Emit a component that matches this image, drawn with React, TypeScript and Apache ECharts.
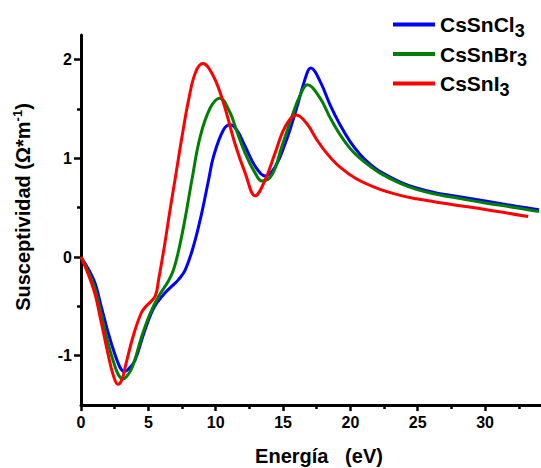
import { useEffect, useRef } from 'react';
import * as echarts from 'echarts';

const FONT = "'Liberation Sans', Arial, Helvetica, sans-serif";

const seriesNames = ['CsSnCl3', 'CsSnBr3', 'CsSnI3'];
const seriesColors = ['#0000FF', '#008000', '#FF0000'];

const clEnergy = [0, 0.94, 1.5, 2.0, 2.5, 2.9, 3.2, 3.5, 4.0, 4.65, 5.39, 6.13, 6.87, 7.24, 7.74, 8.35, 8.97, 9.47, 9.84, 10.58, 11.1, 11.6, 12.19, 12.93, 13.67, 14.4, 15.16, 15.9, 16.77, 17.06, 17.75, 18.5, 19.23, 19.98, 20.72, 21.46, 22.2, 23.7, 24.9, 26.2, 27.4, 29.9, 32.3, 34.0];
const clValues = [0, -0.23, -0.5, -0.76, -0.98, -1.12, -1.16, -1.14, -1.05, -0.78, -0.52, -0.38, -0.28, -0.23, -0.13, 0.11, 0.45, 0.78, 1.02, 1.29, 1.34, 1.28, 1.12, 0.92, 0.82, 0.91, 1.15, 1.46, 1.86, 1.915, 1.78, 1.54, 1.34, 1.17, 1.04, 0.94, 0.865, 0.76, 0.7, 0.655, 0.625, 0.57, 0.515, 0.48];

const brEnergy = [0, 0.94, 1.5, 2.0, 2.5, 2.8, 3.1, 3.4, 3.83, 4.52, 5.14, 5.76, 6.5, 6.87, 7.32, 7.81, 8.23, 8.85, 9.59, 10.3, 11.08, 11.45, 12.19, 12.93, 13.43, 14.17, 14.91, 15.65, 16.27, 16.81, 17.75, 18.5, 19.23, 19.98, 20.72, 21.46, 22.2, 23.7, 24.9, 26.2, 27.4, 29.9, 32.3, 34.0];
const brValues = [0, -0.28, -0.58, -0.87, -1.1, -1.2, -1.235, -1.21, -1.11, -0.8, -0.57, -0.4, -0.24, -0.13, 0.11, 0.45, 0.78, 1.22, 1.51, 1.61, 1.46, 1.32, 1.05, 0.85, 0.77, 0.83, 1.12, 1.42, 1.64, 1.745, 1.61, 1.41, 1.24, 1.1, 1.0, 0.92, 0.85, 0.745, 0.685, 0.64, 0.61, 0.55, 0.5, 0.46];

const iEnergy = [0, 0.94, 1.5, 2.0, 2.4, 2.74, 3.05, 3.29, 3.9, 4.5, 4.9, 5.5, 5.76, 6.18, 6.58, 7.0, 7.5, 8.0, 8.5, 9.05, 9.84, 10.58, 11.45, 12.19, 12.93, 13.67, 14.4, 15.16, 16.0, 16.77, 17.5, 18.25, 19.23, 20.47, 22.2, 23.7, 24.9, 26.2, 27.4, 29.9, 33.2];
const iValues = [0, -0.33, -0.66, -0.98, -1.2, -1.29, -1.24, -1.11, -0.79, -0.56, -0.49, -0.4, -0.23, 0.1, 0.45, 0.8, 1.22, 1.6, 1.87, 1.96, 1.83, 1.56, 1.14, 0.85, 0.62, 0.78, 1.05, 1.32, 1.44, 1.35, 1.19, 1.05, 0.91, 0.79, 0.685, 0.625, 0.59, 0.56, 0.535, 0.485, 0.41];

const xTickValues = [0, 5, 10, 15, 20, 25, 30];
const xMinorTickValues = [2.5, 7.5, 12.5, 17.5, 22.5, 27.5, 32.5];
const yTickValues = [-1, 0, 1, 2];
const yMinorTickValues = [-0.5, 0.5, 1.5];

const xTitle = 'Energía   (eV)';
const yTitleMain = 'Susceptividad (Ω*m';
const yTitleSup = '-1';

const zip = (xs: number[], ys: number[]) => xs.map((x, i) => [x, ys[i]]);
const seriesData = [zip(clEnergy, clValues), zip(brEnergy, brValues), zip(iEnergy, iValues)];

export default function App() {
  const ref = useRef<HTMLDivElement>(null);
  useEffect(() => {
    if (!ref.current) return;
    const chart = echarts.init(ref.current, null, { renderer: 'svg' });
    const axisLineStyle = { color: '#000', width: 3 };
    const tickStyle = { color: '#000', width: 2.5 };
    const labelStyle = { fontSize: 16, fontWeight: 'bold', color: '#000', fontFamily: FONT };
    chart.setOption({
      animation: false,
      backgroundColor: '#fff',
      grid: { left: 81, right: 0, top: 35, bottom: 63, containLabel: false },
      xAxis: [
        {
          type: 'value', min: 0, max: 34.15, position: 'bottom',
          axisLine: { onZero: false, lineStyle: axisLineStyle },
          axisTick: { customValues: xTickValues, length: 6, lineStyle: tickStyle },
          axisLabel: { customValues: xTickValues, margin: 9, ...labelStyle },
          splitLine: { show: false },
        },
        {
          type: 'value', min: 0, max: 34.15, position: 'bottom',
          axisLine: { show: false, onZero: false },
          axisTick: { customValues: xMinorTickValues, length: 4, lineStyle: tickStyle },
          axisLabel: { show: false },
          splitLine: { show: false },
        },
      ],
      yAxis: [
        {
          type: 'value', min: -1.5, max: 2.25, position: 'left',
          axisLine: { onZero: false, lineStyle: axisLineStyle },
          axisTick: { customValues: yTickValues, length: 7, lineStyle: tickStyle },
          axisLabel: { customValues: yTickValues, margin: 9, ...labelStyle },
          splitLine: { show: false },
        },
        {
          type: 'value', min: -1.5, max: 2.25, position: 'left',
          axisLine: { show: false, onZero: false },
          axisTick: { customValues: yMinorTickValues, length: 4, lineStyle: tickStyle },
          axisLabel: { show: false },
          splitLine: { show: false },
        },
      ],
      legend: {
        orient: 'vertical', left: 388, top: 9,
        itemWidth: 42, itemHeight: 4, itemGap: 4, icon: 'rect',
        data: seriesNames,
        formatter: (name: string) => {
          const m = name.match(/^(.*?)(\d)$/);
          return m ? `{a|${m[1]}}{s|${m[2]}}` : `{a|${name}}`;
        },
        textStyle: {
          color: '#000',
          rich: {
            a: { fontSize: 21, fontWeight: 'bold', fontFamily: FONT, color: '#000', lineHeight: 30 },
            s: { fontSize: 18, fontWeight: 'bold', fontFamily: FONT, color: '#000', lineHeight: 14, verticalAlign: 'bottom' },
          },
        },
      },
      graphic: [
        {
          type: 'text', x: 23, y: 207, rotation: Math.PI / 2,
          style: {
            text: `{a|${yTitleMain}}{b|${yTitleSup}}{a|)}`,
            align: 'center', verticalAlign: 'middle',
            rich: {
              a: { fontSize: 20, fontWeight: 'bold', fontFamily: FONT, fill: '#000', lineHeight: 24 },
              b: { fontSize: 13, fontWeight: 'bold', fontFamily: FONT, fill: '#000', lineHeight: 14, verticalAlign: 'top' },
            },
          },
        },
        {
          type: 'text', x: 319, y: 456,
          style: {
            text: xTitle, fill: '#000', fontSize: 20, fontWeight: 'bold', fontFamily: FONT,
            align: 'center', verticalAlign: 'middle',
          },
        },
      ],
      series: seriesNames.map((name, i) => ({
        name, type: 'line', xAxisIndex: 0, yAxisIndex: 0,
        data: seriesData[i], showSymbol: false, smooth: 0.4,
        lineStyle: { width: 3, color: seriesColors[i] },
        itemStyle: { color: seriesColors[i] },
      })),
    });
    return () => chart.dispose();
  }, []);
  return <div ref={ref} style={{ position: 'fixed', left: 0, top: 0, width: 541, height: 468 }} />;
}
